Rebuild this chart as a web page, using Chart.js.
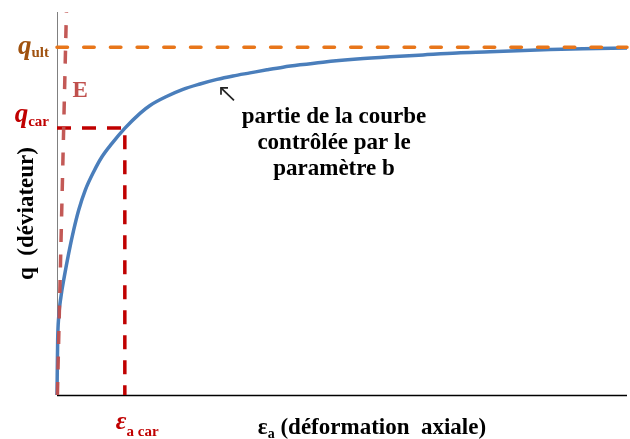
<!DOCTYPE html>
<html>
<head>
<meta charset="utf-8">
<script src="https://cdn.jsdelivr.net/npm/chart.js@4"></script>
<style>
html,body{margin:0;padding:0;background:#fff;}
#wrap{width:630px;height:439px;}
</style>
</head>
<body>
<div id="wrap"><canvas id="c" width="630" height="439"></canvas></div>
<script>
// ---- data (ε in arbitrary %, q in arbitrary units) ----
const curveEps = [0, 0.005, 0.012, 0.03, 0.07, 0.128, 0.205, 0.293, 0.381, 0.496, 0.644, 0.789, 0.965, 1.188, 1.461, 1.632, 1.93, 2.21, 2.509, 2.807, 3.088, 3.386, 3.684, 3.965, 4.263, 4.667, 5.263, 5.842, 6.421, 7.018, 7.596, 8.07, 8.649, 9.228, 10];
const curveQ   = [0, 6.5, 14.4, 20.4, 25.7, 30.9, 37.0, 43.1, 48.3, 53.5, 58.3, 62.2, 65.7, 69.6, 73.6, 75.6, 78.0, 79.8, 81.2, 82.4, 83.3, 84.1, 84.9, 85.6, 86.2, 86.9, 87.7, 88.3, 88.8, 89.3, 89.6, 89.9, 90.2, 90.4, 90.6];
const qUlt = 90.8;
const qCar = 69.7;
const epsCar = 1.19;
const eLineEps = [0.007, 0.165];
const eLineQ   = [0, 100];
const yTickValues = [qUlt, qCar];
const yTickMain = ['q', 'q'];
const yTickSub  = ['ult', 'car'];
const xTickValues = [epsCar];
const xTickMain = ['ε'];
const xTickSub  = ['a car'];
const xTitleMain = 'ε';
const xTitleSub = 'a';
const xTitleRest = ' (déformation  axiale)';
const yTitle = 'q  (déviateur)';
const eLabel = 'E';
const noteLines = ['partie de la courbe', 'contrôlée par le', 'paramètre b'];
const noteAnchor = {eps: 4.86, q: 71.0};
const arrowTip = {eps: 2.877, q: 80.2};
const arrowTail = {eps: 3.105, q: 76.9};

const SERIF = '"Liberation Serif", "Times New Roman", serif';

function pts(xs, ys){ return xs.map((x,i)=>({x:x, y:ys[i]})); }

function drawParts(ctx, parts, x, align){
  let w = 0;
  parts.forEach(p=>{ ctx.font = p.font; p.w = ctx.measureText(p.text).width; w += p.w; });
  let cx = align === 'right' ? x - w : (align === 'center' ? x - w/2 : x);
  parts.forEach(p=>{
    ctx.font = p.font; ctx.fillStyle = p.color;
    ctx.textAlign = 'left'; ctx.textBaseline = 'alphabetic';
    ctx.fillText(p.text, cx, p.y);
    cx += p.w;
  });
}

const decor = {
  id: 'decor',
  beforeDatasetsDraw(chart){
    const ctx = chart.ctx, a = chart.chartArea;
    ctx.save();
    ctx.strokeStyle = '#808080'; ctx.lineWidth = 1;
    ctx.beginPath(); ctx.moveTo(a.left+0.5, a.top); ctx.lineTo(a.left+0.5, a.bottom); ctx.stroke();
    ctx.strokeStyle = '#000'; ctx.lineWidth = 1.5;
    ctx.beginPath(); ctx.moveTo(a.left, a.bottom+0.5); ctx.lineTo(a.right, a.bottom+0.5); ctx.stroke();
    ctx.restore();
  },
  afterDatasetsDraw(chart){
    const ctx = chart.ctx, a = chart.chartArea;
    const xs = chart.scales.x, ys = chart.scales.y;
    ctx.save();
    // y "tick" labels
    const yColors = ['#A0520F', '#C00000'];
    const yOff = [[6.5, 10], [-6, -2]];
    yTickValues.forEach((v,i)=>{
      const py = ys.getPixelForValue(v);
      drawParts(ctx, [
        {text: yTickMain[i], font: 'italic bold 27px ' + SERIF, color: yColors[i], y: py + yOff[i][0]},
        {text: yTickSub[i], font: 'bold 15px ' + SERIF, color: yColors[i], y: py + yOff[i][1]}
      ], a.left - 8, 'right');
    });
    // x "tick" labels
    xTickValues.forEach((v,i)=>{
      const px = xs.getPixelForValue(v);
      drawParts(ctx, [
        {text: xTickMain[i], font: 'italic bold 26px ' + SERIF, color: '#C00000', y: a.bottom + 34},
        {text: xTickSub[i], font: 'bold 15px ' + SERIF, color: '#C00000', y: a.bottom + 41}
      ], px - 9, 'left');
    });
    // x title
    drawParts(ctx, [
      {text: xTitleMain, font: 'bold 23px ' + SERIF, color: '#000', y: a.bottom + 39},
      {text: xTitleSub, font: 'bold 14px ' + SERIF, color: '#000', y: a.bottom + 43},
      {text: xTitleRest, font: 'bold 23px ' + SERIF, color: '#000', y: a.bottom + 39}
    ], 372, 'center');
    // y title
    ctx.save();
    ctx.translate(33, (a.top + a.bottom)/2 + 10);
    ctx.rotate(-Math.PI/2);
    ctx.font = 'bold 23px ' + SERIF; ctx.fillStyle = '#000';
    ctx.textAlign = 'center'; ctx.textBaseline = 'alphabetic';
    ctx.fillText(yTitle, 0, 0);
    ctx.restore();
    // E label
    ctx.font = 'bold 23px ' + SERIF; ctx.fillStyle = '#C0504D';
    ctx.textAlign = 'left'; ctx.textBaseline = 'alphabetic';
    ctx.fillText(eLabel, xs.getPixelForValue(eLineEps[1]) + 6, ys.getPixelForValue(eLineQ[1]) + 85);
    // note
    ctx.font = 'bold 23px ' + SERIF; ctx.fillStyle = '#000'; ctx.textAlign = 'center';
    const nx = xs.getPixelForValue(noteAnchor.eps), ny = ys.getPixelForValue(noteAnchor.q);
    noteLines.forEach((t,i)=> ctx.fillText(t, nx, ny + i*26));
    // arrow
    const tx = xs.getPixelForValue(arrowTip.eps), ty = ys.getPixelForValue(arrowTip.q);
    const sx = xs.getPixelForValue(arrowTail.eps), sy = ys.getPixelForValue(arrowTail.q);
    ctx.strokeStyle = '#222'; ctx.lineWidth = 1.7; ctx.lineCap = 'butt';
    ctx.beginPath(); ctx.moveTo(sx, sy); ctx.lineTo(tx, ty); ctx.stroke();
    ctx.beginPath(); ctx.moveTo(tx + 7, ty); ctx.lineTo(tx, ty); ctx.lineTo(tx, ty + 7); ctx.stroke();
    ctx.restore();
  }
};

new Chart(document.getElementById('c'), {
  type: 'scatter',
  data: {
    datasets: [
      { label: 'E', data: pts(eLineEps, eLineQ), showLine: true, borderColor: 'rgba(192,80,77,0.95)', borderWidth: 3.5, borderDash: [13, 12.5], pointRadius: 0, order: 0, clip: false },
      { label: 'q_ult', data: pts([0, 10], [qUlt, qUlt]), showLine: true, borderColor: '#E8761A', borderWidth: 3.5, borderDash: [10.5, 16.2], borderCapStyle: 'round', pointRadius: 0, order: 1, clip: false },
      { label: 'courbe', data: pts(curveEps, curveQ), showLine: true, borderColor: '#4A7EBB', borderWidth: 3.5, cubicInterpolationMode: 'monotone', pointRadius: 0, order: 2, clip: false },
      { label: 'q_car', data: pts([0, epsCar, epsCar], [qCar, qCar, 0]), showLine: true, borderColor: '#C00000', borderWidth: 3.5, borderDash: [14, 11], pointRadius: 0, order: 3, clip: false }
    ]
  },
  options: {
    responsive: false,
    animation: false,
    devicePixelRatio: 1,
    layout: { padding: { left: 57, right: 3, top: 12, bottom: 44 } },
    plugins: { legend: { display: false }, tooltip: { enabled: false } },
    scales: {
      x: { type: 'linear', min: 0, max: 10, display: false },
      y: { type: 'linear', min: 0, max: 100, display: false }
    }
  },
  plugins: [decor]
});
</script>
</body>
</html>
